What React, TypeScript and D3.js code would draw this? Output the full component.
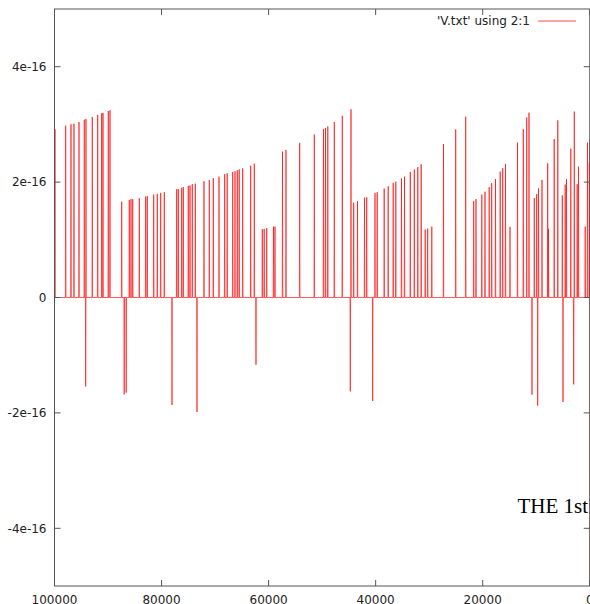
import React from 'react';
import * as d3 from 'd3';

// spike positions (column 2) and values (column 1, in units of 1e-16)
const spikeX = [
  99907, 97910, 96918, 96358, 95423, 94433, 94172, 94115, 92939, 91930, 91183, 90940, 89950, 89632,
  87446, 86979, 86606, 86026, 85709, 85391, 84158, 82962, 82663, 81468, 80795, 80159, 79487, 78049,
  77170, 76871, 76236, 75937, 75003, 74685, 74256, 73695, 73378, 72070, 71080, 70332, 69267, 68202,
  67735, 66707, 66278, 65848, 65493, 64840, 63345, 62673, 62355,
  61177, 60822, 60356, 59085, 58805, 57403, 56750, 54190, 51462, 49744, 49370, 48940, 47726, 46231,
  44737, 44606, 44101, 43391, 42083, 41672, 40552, 40122, 39711, 38403, 37656, 36722, 36236, 35171,
  34610, 33527, 32779, 32126, 31491, 30743, 30276, 29510, 27324, 25045, 23176,
  21682, 21252, 20168, 19571, 18786, 18319, 17609, 16731, 16263, 15740, 14900, 13499, 12415, 11780,
  11350, 10789, 10360, 9911, 9725, 9575, 8921, 7856, 7707, 6642, 5969, 5129, 4998, 4587, 4344, 3540,
  2999, 2887, 2345, 2102, 850, 420, 84,
];
const spikeV = [
  2.916, 2.978, 3.003, 3.013, 3.042, 3.082, -1.541, 3.094, 3.129, 3.164, 3.193, 3.198, 3.233, 3.245,
  1.662, -1.68, -1.65, 1.692, 1.704, 1.704, 1.721, 1.749, 1.756, 1.784, 1.796, 1.813, 1.825, -1.863,
  1.877, 1.882, 1.9, 1.912, 1.934, 1.943, 1.964, 1.974, -1.984, 2.016, 2.038, 2.068, 2.095, 2.137,
  2.154, 2.177, 2.189, 2.206, 2.22, 2.237, 2.284, 2.319, -1.165,
  1.184, 1.19, 1.202, 1.229, 1.229, 2.528, 2.558, 2.679, 2.826, 2.918, 2.939, 2.965, 3.042, 3.15,
  -1.628, 3.262, 1.645, 1.671, 1.73, 1.738, -1.794, 1.81, 1.825, 1.887, 1.929, 1.986, 2.009, 2.064,
  2.095, 2.177, 2.218, 2.26, 2.312, 1.179, 1.195, 1.229, 2.658, 2.913, 3.134,
  1.671, 1.706, 1.784, 1.835, 1.913, 1.981, 2.052, 2.182, 2.241, 2.312, 1.224, 2.684, 2.918, 3.12,
  3.203, -1.685, 1.721, 1.792, -1.875, 1.891, 2.038, 2.327, 1.19, 2.745, 3.072, 1.77, -1.811, 1.957, 2.052, 2.578,
  -1.506, 3.221, 1.964, 2.267, 1.229, 2.684, 2.34,
];
// the last points, where the series runs off the bottom
const tailX = [30, 0];
const tailV = [2.72, -6];

const xTicks = [100000, 80000, 60000, 40000, 20000, 0];
const yTicks = [4e-16, 2e-16, 0, -2e-16, -4e-16];
const yTickLabels = ['4e-16', '2e-16', '0', '-2e-16', '-4e-16'];

const width = 590, height = 604;
const left = 54.5, right = 589.75, top = 9, bottom = 586;
const red = '#ff0000';
const font = '"DejaVu Sans", sans-serif';

export default function App() {
  const x = d3.scaleLinear().domain([100000, 0]).range([left, right]);
  const y = d3.scaleLinear().domain([-5e-16, 5e-16]).range([bottom, top]);

  // each sample sits on the zero line between its neighbours
  const pts: [number, number][] = [[100000, 0]];
  const hw = 55;
  spikeX.forEach((sx, i) => {
    pts.push([sx + hw, 0]);
    pts.push([sx, spikeV[i] * 1e-16]);
    pts.push([sx - hw, 0]);
  });
  tailX.forEach((tx, i) => pts.push([tx, tailV[i] * 1e-16]));

  const line = d3.line<[number, number]>()
    .x(d => x(d[0]))
    .y(d => y(d[1]));

  return (
    <svg width={width} height={height} style={{position: 'absolute', left: 0, top: 0}}>
      <defs>
        <clipPath id="plot">
          <rect x={left} y={top} width={right - left} height={bottom - top}/>
        </clipPath>
      </defs>
      <rect width={width} height={height} fill="white"/>

      <g clipPath="url(#plot)">
        <path d={line(pts)!} fill="none" stroke={red} strokeOpacity={0.7} strokeWidth={0.9}/>
      </g>

      <rect x={left} y={top} width={right - left} height={bottom - top}
            fill="none" stroke="#555" strokeWidth={1}/>

      {yTicks.map((t, i) => (
        <g key={'y' + i}>
          <line x1={left} x2={left + 6} y1={y(t)} y2={y(t)} stroke="#555"/>
          <line x1={right - 6} x2={right} y1={y(t)} y2={y(t)} stroke="#555"/>
          <text x={left - 8} y={y(t)} dy="0.35em" textAnchor="end"
                fontFamily={font} fontSize={12} fill="#222">{yTickLabels[i]}</text>
        </g>
      ))}

      {xTicks.map((t, i) => (
        <g key={'x' + i}>
          <line x1={x(t)} x2={x(t)} y1={bottom} y2={bottom - 6} stroke="#555"/>
          <line x1={x(t)} x2={x(t)} y1={top} y2={top + 6} stroke="#555"/>
          <text x={x(t)} y={604} textAnchor="middle"
                fontFamily={font} fontSize={12} fill="#222">{t}</text>
        </g>
      ))}

      <text x={530} y={25} textAnchor="end" fontFamily={font} fontSize={12} fill="#222">
        'V.txt' using 2:1
      </text>
      <line x1={538} x2={576} y1={21} y2={21} stroke={red} strokeOpacity={0.7} strokeWidth={1}/>

      <text x={517.5} y={513} fontFamily='"Liberation Serif", "Times New Roman", serif'
            fontSize={21} fill="#000">THE 1st</text>
    </svg>
  );
}
